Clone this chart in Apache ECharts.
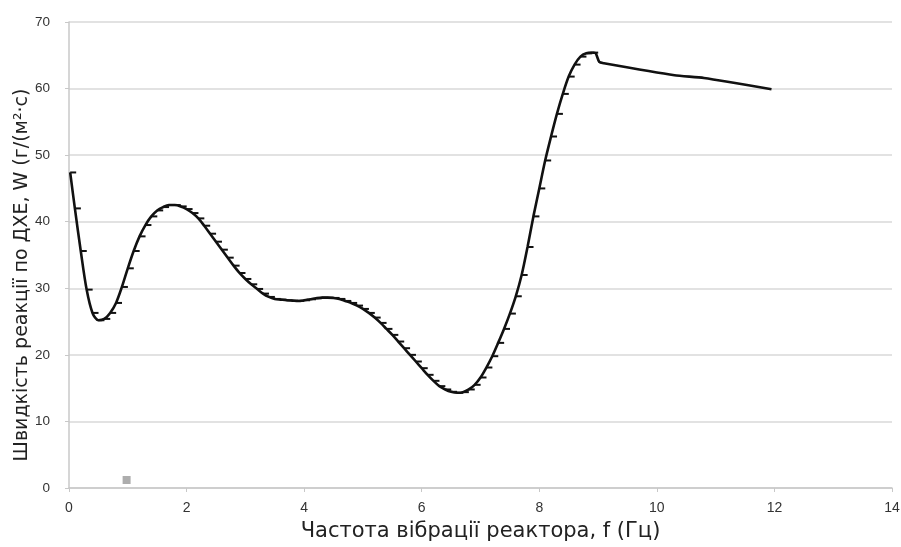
<!DOCTYPE html>
<html>
<head>
<meta charset="utf-8">
<script src="https://cdn.jsdelivr.net/npm/echarts@6/dist/echarts.min.js"></script>
<style>html,body{margin:0;padding:0;background:#fff}#c{width:901px;height:547px}</style>
</head>
<body>
<div id="c"></div>
<script>
var freq = [0.02,0.1,0.2,0.3,0.4,0.5,0.6,0.7,0.8,0.9,1.0,1.1,1.2,1.3,1.4,1.5,1.6,1.7,1.8,1.9,2.0,2.1,2.2,2.3,2.4,2.5,2.6,2.7,2.8,2.9,3.0,3.1,3.2,3.3,3.4,3.5,3.6,3.7,3.8,3.9,4.0,4.1,4.2,4.3,4.4,4.5,4.6,4.7,4.8,4.9,5.0,5.1,5.2,5.3,5.4,5.5,5.6,5.7,5.8,5.9,6.0,6.1,6.2,6.3,6.4,6.5,6.6,6.7,6.8,6.9,7.0,7.1,7.2,7.3,7.4,7.5,7.6,7.7,7.8,7.9,8.0,8.1,8.2,8.3,8.4,8.5,8.6,8.7,8.8,8.9];
var rate = [47.4,42.0,35.6,29.8,26.3,25.2,25.4,26.3,27.8,30.2,33.0,35.6,37.8,39.5,40.8,41.7,42.2,42.5,42.5,42.3,41.9,41.3,40.5,39.4,38.2,37.0,35.8,34.6,33.4,32.3,31.4,30.6,29.9,29.2,28.7,28.4,28.3,28.2,28.15,28.1,28.2,28.35,28.5,28.6,28.6,28.55,28.4,28.1,27.8,27.4,26.9,26.3,25.6,24.8,23.9,23.0,22.0,21.0,20.0,19.0,18.0,17.0,16.1,15.3,14.8,14.45,14.3,14.4,14.8,15.5,16.6,18.1,19.8,21.8,23.9,26.2,28.8,32.0,36.2,40.8,45.0,49.2,52.8,56.2,59.2,61.8,63.6,64.8,65.3,65.4];
var tailFreq = [8.9,8.96,9.02,9.1,10.3,10.8,11.95];
var tailRate = [65.4,65.3,64.0,63.8,62.0,61.6,59.9];
var extraPoint = [[0.98,1.2]];
var xTicks = [0,2,4,6,8,10,12,14];
var yTicks = [0,10,20,30,40,50,60,70];

var mainData = freq.map(function(f,i){return [f, rate[i]];});
var tailData = tailFreq.map(function(f,i){return [f, tailRate[i]];});
var font = 'Liberation Sans, Arial, sans-serif';
var titleFont = 'DejaVu Sans, sans-serif';

var chart = echarts.init(document.getElementById('c'));
chart.setOption({
  animation: false,
  backgroundColor: '#fff',
  grid: {left: 69, right: 9, top: 22, bottom: 59, containLabel: false, outerBoundsMode: 'none'},
  xAxis: {
    type: 'value', min: xTicks[0], max: xTicks[xTicks.length-1], interval: 2,
    name: 'Частота вібрації реактора, f (Гц)',
    nameLocation: 'middle', nameGap: 33,
    nameTextStyle: {fontFamily: titleFont, fontSize: 21, color: '#222'},
    axisLine: {show: true, lineStyle: {color: '#c8c8c8', width: 1.5}},
    axisTick: {show: true, length: 4, lineStyle: {color: '#c8c8c8'}},
    axisLabel: {fontFamily: font, fontSize: 14, color: '#333', margin: 13},
    splitLine: {show: false}
  },
  yAxis: {
    type: 'value', min: yTicks[0], max: yTicks[yTicks.length-1], interval: 10,
    name: 'Швидкість реакції по ДХЕ, W (г/(м²·с)',
    nameLocation: 'middle', nameGap: 37, nameRotate: 90, nameMoveOverlap: false,
    nameTextStyle: {fontFamily: titleFont, fontSize: 19, color: '#222', padding: [0, 40, 0, 0]},
    axisLine: {show: true, lineStyle: {color: '#c8c8c8', width: 1.5}},
    axisTick: {show: true, length: 4, lineStyle: {color: '#c8c8c8'}},
    axisLabel: {fontFamily: font, fontSize: 13.5, color: '#333', margin: 19},
    splitLine: {show: true, lineStyle: {color: '#d9d9d9', width: 1.5}}
  },
  series: [
    {
      type: 'line', data: mainData, smooth: 0.3,
      symbol: 'rect', symbolSize: [6, 2], symbolOffset: [3, 0], showSymbol: true,
      itemStyle: {color: '#111'},
      lineStyle: {color: '#111', width: 2.6},
      z: 3
    },
    {
      type: 'line', data: tailData, smooth: 0.2, symbol: 'none',
      lineStyle: {color: '#111', width: 2.6},
      z: 3
    },
    {
      type: 'scatter', data: extraPoint, symbol: 'rect', symbolSize: 8,
      itemStyle: {color: '#999'}
    }
  ]
});
</script>
</body>
</html>
